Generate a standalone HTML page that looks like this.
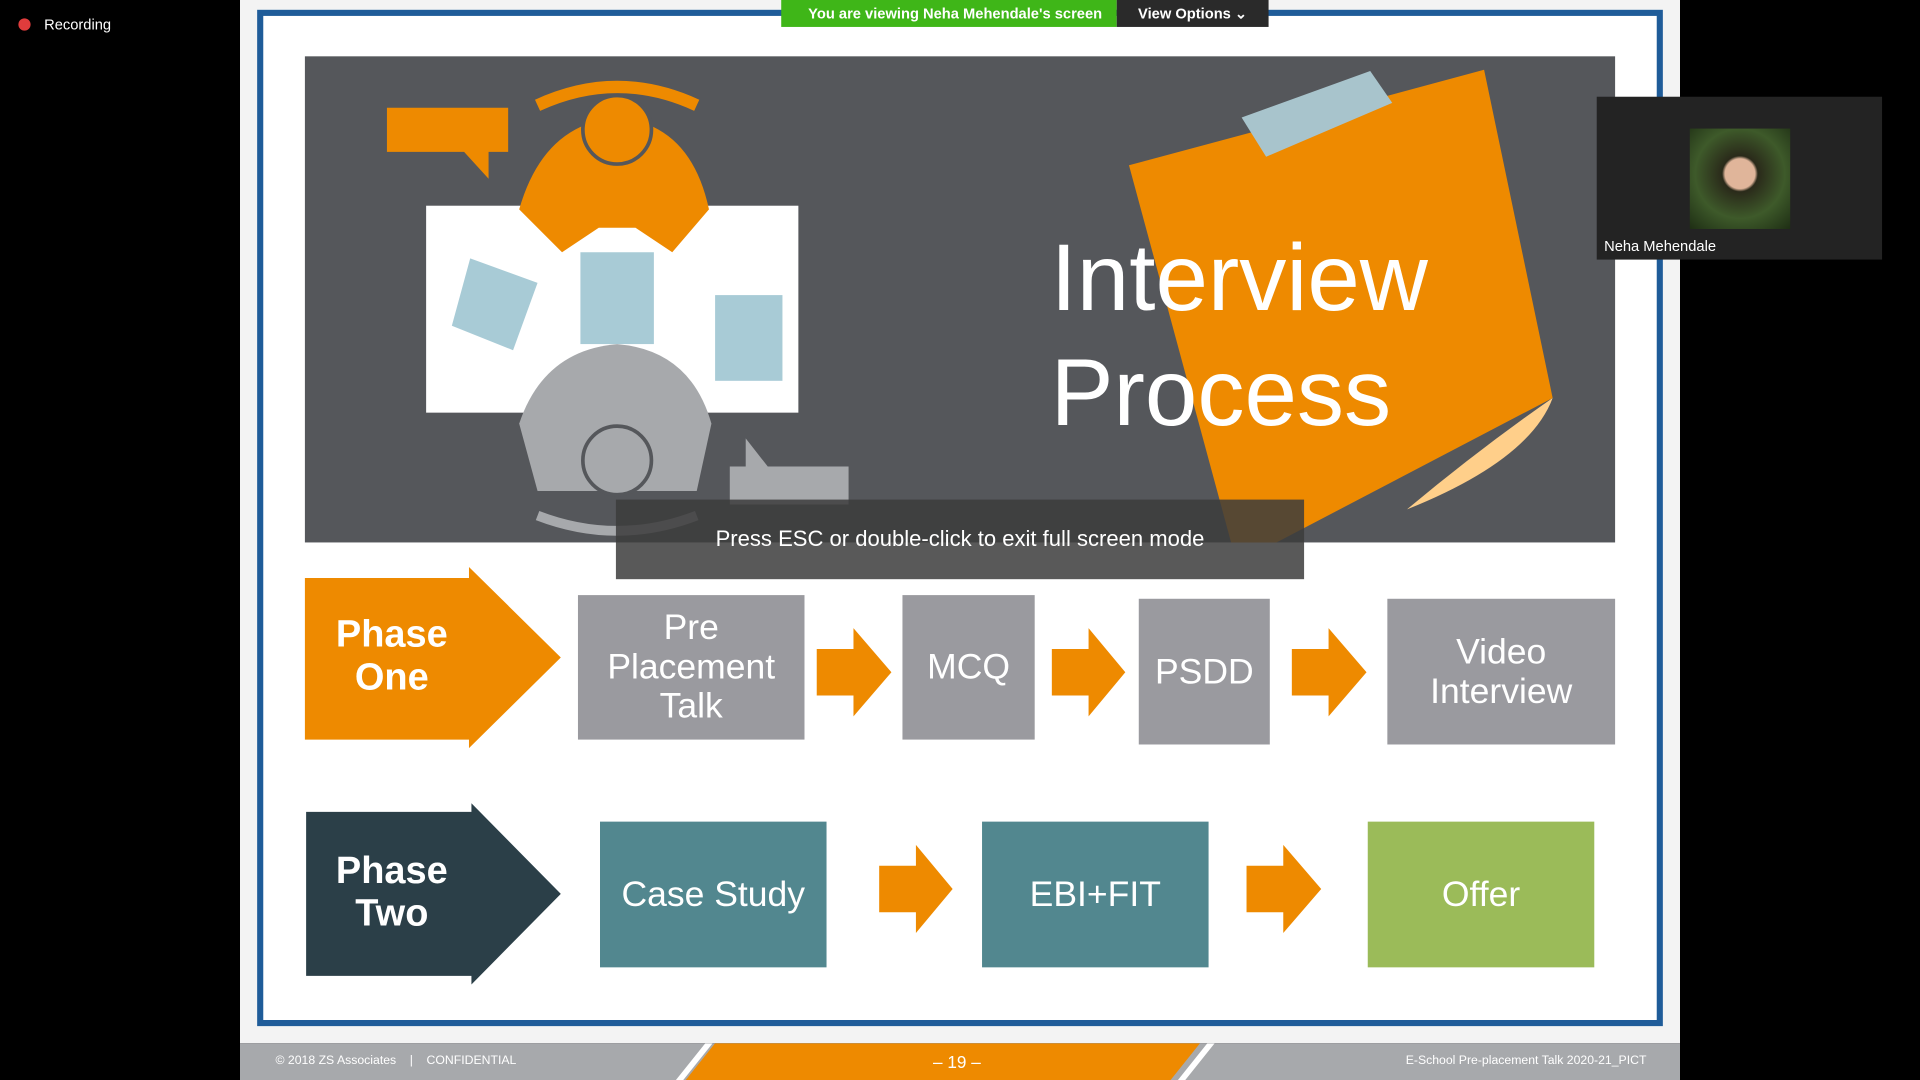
<!DOCTYPE html>
<html><head><meta charset="utf-8"><style>
html,body{margin:0;padding:0;background:#000;overflow:hidden;width:1920px;height:1080px}
#s{position:absolute;left:0;top:0;width:1568px;height:882px;transform:scale(1.22449);transform-origin:0 0;font-family:"Liberation Sans",sans-serif}
.a{position:absolute}
.box{position:absolute;display:flex;align-items:center;justify-content:center;text-align:center;color:#fff;font-size:29px;line-height:32px}
</style></head><body><div id="s">
<div class="a" style="left:196px;top:0;width:1176px;height:852px;background:#f3f3f3"></div>
<div class="a" style="left:210px;top:8px;width:1138px;height:820px;border:5px solid #1f5c99;background:#fff"></div>
<div class="a" style="left:196px;top:852px;width:1176px;height:30px;background:#a7a9ac"></div>
<svg class="a" style="left:196px;top:852px" width="1176" height="30"><polygon points="364,30 388,0 784,0 760,30" fill="#ee8a00"/><polygon points="356,30 380,0 386,0 362,30" fill="#fff"/><polygon points="766,30 790,0 796,0 772,30" fill="#fff"/></svg>
<div class="a" style="left:225px;top:861px;font-size:10px;color:#fff">© 2018 ZS Associates &nbsp;&nbsp;&nbsp;|&nbsp;&nbsp;&nbsp; CONFIDENTIAL</div>
<div class="a" style="left:762px;top:859px;font-size:14px;color:#fff">– 19 –</div>
<div class="a" style="left:1148px;top:861px;font-size:10px;color:#fff">E-School Pre-placement Talk 2020-21_PICT</div>
<div class="a" style="left:249px;top:46px;width:1070px;height:397px;background:#55575b;overflow:hidden">
<svg width="1070" height="397">
<polygon points="67,42 166,42 166,78 150,78 150,100 130,78 67,78" fill="#ee8a00"/>
<rect x="99" y="122" width="304" height="169" fill="#fff"/>
<path d="M190,40 Q255,10 320,40" stroke="#ee8a00" stroke-width="10" fill="none"/>
<path d="M175,125 Q195,55 255,50 Q315,55 330,125 L300,160 L270,140 L240,140 L210,160 Z" fill="#ee8a00"/>
<circle cx="255" cy="60" r="28" fill="#ee8a00" stroke="#55575b" stroke-width="3"/>
<rect x="225" y="160" width="60" height="75" fill="#a8cbd6"/>
<polygon points="135,165 190,185 170,240 120,220" fill="#a8cbd6"/>
<rect x="335" y="195" width="55" height="70" fill="#a8cbd6"/>
<path d="M175,300 Q195,240 255,235 Q315,240 332,300 L320,355 L190,355 Z" fill="#a7a9ac"/>
<circle cx="255" cy="330" r="28" fill="#a7a9ac" stroke="#55575b" stroke-width="3"/>
<path d="M190,375 Q255,400 320,375" stroke="#a7a9ac" stroke-width="8" fill="none"/>
<polygon points="347,335 360,335 360,312 378,335 444,335 444,366 347,366" fill="#a7a9ac"/>
<polygon points="673,89 963,11 1019,279 761,414" fill="#ee8a00"/>
<path d="M1019,279 Q1000,330 900,370 Q960,320 1019,279" fill="#ffcf8a"/>
<polygon points="765,50 870,12 888,38 785,82" fill="#a8c4cc"/>
</svg></div>
<div class="a" style="left:858px;top:180px;font-size:77px;color:#fff;line-height:94px">Interview<br>Process</div>
<div class="a" style="left:503px;top:408px;width:562px;height:65px;background:rgba(60,60,60,.85);color:#fff;font-size:18px;display:flex;align-items:center;justify-content:center">Press ESC or double-click to exit full screen mode</div>
<svg class="a" style="left:0;top:0" width="1568" height="882">
<polygon points="249,472 383,472 383,463 458,537 383,611 383,604 249,604" fill="#ee8a00"/>
<polygon points="250,663 385,663 385,656 458,730 385,804 385,797 250,797" fill="#2b3f48"/>
<g fill="#ee8a00">
<polygon points="667,530 697,530 697,513 728,549 697,585 697,568 667,568"/>
<polygon points="859,530 889,530 889,513 919,549 889,585 889,568 859,568"/>
<polygon points="1055,530 1085,530 1085,513 1116,549 1085,585 1085,568 1055,568"/>
<polygon points="718,707 748,707 748,690 778,726 748,762 748,745 718,745"/>
<polygon points="1018,707 1048,707 1048,690 1079,726 1048,762 1048,745 1018,745"/>
</g></svg>
<div class="box" style="left:249px;top:500px;width:142px;font-weight:bold;font-size:31px;line-height:35px">Phase<br>One</div>
<div class="box" style="left:249px;top:693px;width:142px;font-weight:bold;font-size:31px;line-height:35px">Phase<br>Two</div>
<div class="box" style="left:472px;top:486px;width:185px;height:118px;background:#9a9a9f">Pre<br>Placement<br>Talk</div>
<div class="box" style="left:737px;top:486px;width:108px;height:118px;background:#9a9a9f">MCQ</div>
<div class="box" style="left:930px;top:489px;width:107px;height:119px;background:#9a9a9f">PSDD</div>
<div class="box" style="left:1133px;top:489px;width:186px;height:119px;background:#9a9a9f">Video<br>Interview</div>
<div class="box" style="left:490px;top:671px;width:185px;height:119px;background:#52878f">Case Study</div>
<div class="box" style="left:802px;top:671px;width:185px;height:119px;background:#52878f">EBI+FIT</div>
<div class="box" style="left:1117px;top:671px;width:185px;height:119px;background:#9bbb59">Offer</div>
<div class="a" style="left:638px;top:0;width:274px;height:22px;background:#3fb618;color:#fff;font-size:12px;font-weight:bold;line-height:22px;text-indent:22px">You are viewing Neha Mehendale's screen</div>
<div class="a" style="left:912px;top:0;width:124px;height:22px;background:#2a2a2a;color:#fff;font-size:12px;font-weight:bold;line-height:22px;text-align:center">View Options ⌄</div>
<div class="a" style="left:15px;top:15px;width:10px;height:10px;border-radius:50%;background:#e03c3c"></div>
<div class="a" style="left:36px;top:13px;color:#fff;font-size:12px">Recording</div>
<div class="a" style="left:1304px;top:79px;width:233px;height:133px;background:#232323"></div>
<div class="a" style="left:1380px;top:105px;width:82px;height:82px;background:radial-gradient(circle at 50% 45%,#e0b59a 0 20%,#2a2a1a 24%,#3e5a2a 60%,#1e2e14)"></div>
<div class="a" style="left:1310px;top:194px;color:#fff;font-size:12px">Neha Mehendale</div>
</div></body></html>
